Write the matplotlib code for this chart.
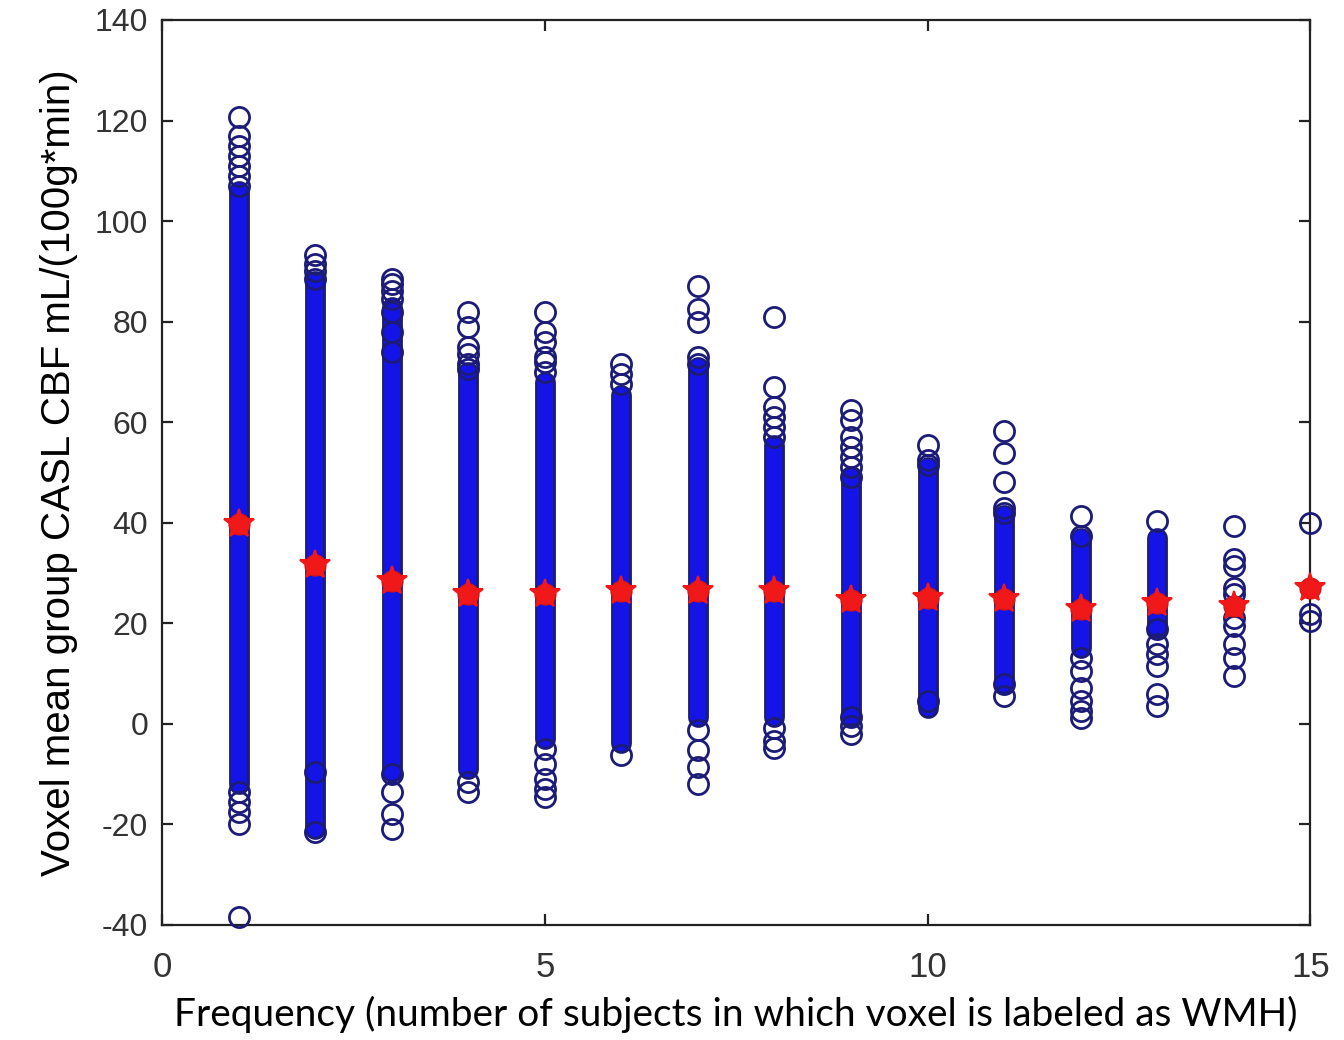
import numpy as np
import matplotlib
matplotlib.use("Agg")
import matplotlib.pyplot as plt

plt.rcParams["axes.unicode_minus"] = False

# frequency (number of subjects) on x
freq = list(range(1, 16))

# solid part of each column, where the circles overlap into a bar (None = only single circles)
dense_lo = [-12, -21, -9.5, -9, -3, -3.8, 1.4, 1.3, 1.3, 3.2, 7.9, 15, 19, None, None]
dense_hi = [106, 88, 83, 70, 68, 65.5, 71, 55.5, 49, 51, 41.6, 36.9, 36.9, None, None]

# circles that stand out from the solid bars
outliers = [
    [120.8, 117, 115, 113, 111, 109, 107, -13.5, -15.5, -17.5, -20, -38.5],
    [93.3, 91.5, 90, 88.5, -9.5, -21.5],
    [88.5, 87.5, 86, 84.5, 82, 78, 74, -10, -13.5, -18, -21],
    [82, 79, 75, 73.5, 71.5, 70.5, -11.5, -13.5],
    [82, 78, 76, 73, 72, 70, -5, -8, -11, -13, -14.5],
    [71.5, 69.5, 67.5, -6.2],
    [87, 82.5, 80, 73, 71.5, -1.2, -5.2, -8.5, -12],
    [81, 67, 63, 61, 59, 57, -0.8, -3.5, -4.8],
    [62.5, 60.5, 57, 55, 53, 51, 49, 1.3, -0.5, -2],
    [55.5, 52.5, 51.5, 4.5],
    [58.2, 53.8, 48.2, 43, 42, 8, 5.5],
    [41.3, 37.3, 13.1, 10.5, 7.1, 4.6, 2.6, 1.2],
    [40.3, 18.8, 15.9, 13.9, 11.5, 6, 3.6],
    [39.3, 32.7, 31.3, 27, 25.8, 21, 19.4, 15.9, 13.1, 9.5],
    [39.9, 21.8, 20.4],
]

# group mean per frequency
means = [39.8, 31.6, 28.4, 25.9, 25.8, 26.4, 26.4, 26.4, 24.6, 25.1, 24.8, 22.9, 24.1, 23.4, 27.0]

NAVY = "#1c1c78"
BLUE = "#1414e6"
RED = "#f01818"

fig = plt.figure(figsize=(13.44, 10.4), dpi=100)
ax = fig.add_axes([0.1205, 0.1106, 0.8545, 0.8702])

for i, x in enumerate(freq):
    if dense_lo[i] is not None:
        ax.plot([x, x], [dense_lo[i], dense_hi[i]], color=NAVY, lw=15,
                solid_capstyle="round", zorder=2)
        ax.plot([x, x], [dense_lo[i], dense_hi[i]], color=BLUE, lw=11.5,
                solid_capstyle="round", zorder=3)
    ys = outliers[i]
    ax.plot([x] * len(ys), ys, linestyle="none", marker="o", ms=14.5,
            mfc="none", mec=NAVY, mew=2.0, zorder=4, clip_on=False)

ax.plot(freq, means, linestyle="none", marker="o", ms=15, color=RED,
        mec="#d41616", zorder=5, clip_on=False)
ax.plot(freq, means, linestyle="none", marker="*", ms=22, color=RED,
        mew=1.5, zorder=5, clip_on=False)

ax.set_xlim(0, 15)
ax.set_ylim(-40, 140)
ax.set_xticks([0, 5, 10, 15])
ax.set_yticks(np.arange(-40, 141, 20))

for s in ax.spines.values():
    s.set_linewidth(1.6)
    s.set_color("#222222")
    s.set_zorder(1)

ax.tick_params(direction="in", length=8, width=1.6, top=True, right=True,
               color="#222222")
ax.tick_params(axis="y", labelsize=23, pad=10, labelcolor="#333333")
ax.tick_params(axis="x", labelsize=25, pad=19, labelcolor="#333333")
for lab in ax.get_yticklabels():
    lab.set_family(["Liberation Sans", "DejaVu Sans"])
for lab in ax.get_xticklabels():
    lab.set_family(["Liberation Sans Narrow", "Liberation Sans", "DejaVu Sans"])

ax.set_ylabel("Voxel mean group CASL CBF mL/(100g*min)", fontsize=29,
              family=["Liberation Sans Narrow", "Liberation Sans", "DejaVu Sans"],
              labelpad=12)
ax.set_xlabel("Frequency (number of subjects in which voxel is labeled as WMH)",
              fontsize=28, family=["Lato", "DejaVu Sans"], labelpad=8)

fig.savefig("out.png", dpi=100, facecolor="white")
